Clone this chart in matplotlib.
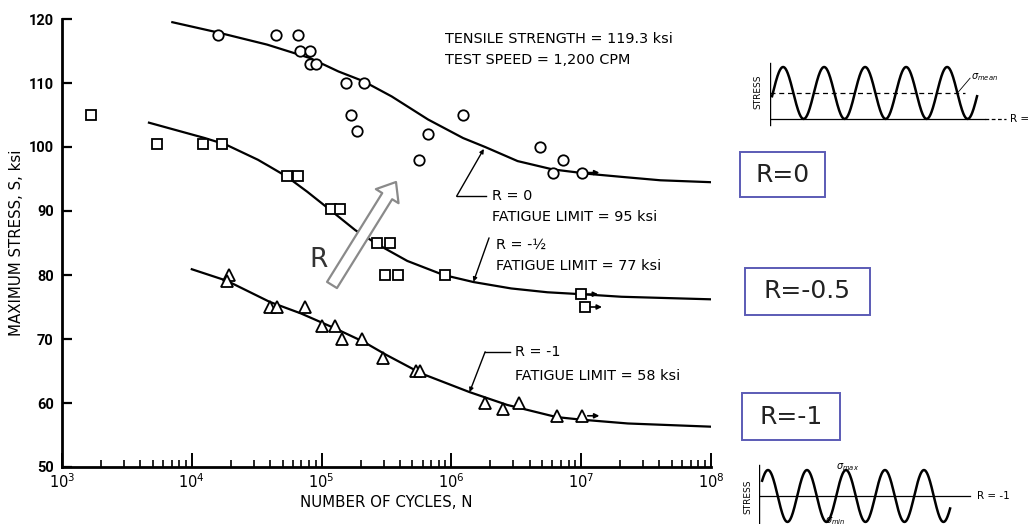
import numpy as np
import matplotlib.pyplot as plt
from matplotlib.patches import Rectangle

plt.rcParams['font.family'] = ['DejaVu Sans']

# ---- datos de ensayo: log10(N) y tension maxima S (ksi) ----
# R = 0 (circulos)
r0_logn = [4.20, 4.65, 4.82, 4.83, 4.91, 4.91, 4.96, 5.19, 5.33, 5.23, 5.27,
           5.75, 5.82, 6.09, 6.68, 6.86, 6.78, 7.01]
r0_s = [117.5, 117.5, 117.5, 115, 115, 113, 113, 110, 110, 105, 102.5,
        98, 102, 105, 100, 98, 96, 96]

# R = -1/2 (cuadrados)
r05_logn = [3.22, 3.73, 4.09, 4.23, 4.73, 4.82, 5.07, 5.14, 5.43, 5.53,
            5.49, 5.59, 5.95, 7.00, 7.03]
r05_s = [105, 100.5, 100.5, 100.5, 95.5, 95.5, 90.3, 90.3, 85, 85,
         80, 80, 80, 77, 75]

# R = -1 (triangulos)
r1_logn = [4.29, 4.27, 4.60, 4.66, 4.87, 5.00, 5.10, 5.16, 5.31, 5.47,
           5.73, 5.76, 6.26, 6.40, 6.52, 6.81, 7.01]
r1_s = [80, 79, 75, 75, 75, 72, 72, 70, 70, 67,
        65, 65, 60, 59, 60, 58, 58]

# probetas sin rotura (flecha)
runout_logn = [7.01, 7.00, 7.03, 7.01]
runout_s = [96, 77, 75, 58]

# curvas ajustadas
c0_logn = [3.85, 4.20, 4.58, 4.91, 5.13, 5.32, 5.54, 5.82, 6.09, 6.26, 6.51,
           6.78, 7.06, 7.33, 7.61, 8.0]
c0_s = [119.5, 117.9, 116.0, 113.9, 111.8, 110.3, 107.9, 104.3, 101.4, 100.0,
        97.8, 96.5, 95.8, 95.3, 94.8, 94.5]

c05_logn = [3.67, 4.10, 4.26, 4.51, 4.73, 4.89, 5.07, 5.26, 5.43, 5.66, 5.94,
            6.17, 6.46, 6.74, 7.0, 7.31, 8.0]
c05_s = [103.8, 101.4, 100.4, 98.0, 95.4, 93.0, 90.1, 87.0, 84.8, 82.2, 80.0,
         78.9, 77.9, 77.3, 77.0, 76.6, 76.2]

c1_logn = [4.0, 4.27, 4.60, 4.84, 5.11, 5.32, 5.50, 5.77, 6.14, 6.43, 6.81,
           7.0, 7.36, 8.0]
c1_s = [80.9, 79.1, 75.8, 74.0, 71.6, 69.6, 67.5, 64.6, 61.7, 59.7, 57.8,
        57.4, 56.8, 56.3]

yticks = [50, 60, 70, 80, 90, 100, 110, 120]
decades = [3, 4, 5, 6, 7, 8]

W, H = 1032, 524
fig = plt.figure(figsize=(W / 100, H / 100), dpi=100)
fig.patch.set_facecolor('white')


def fx(px):
    return px / W


def fy(py):
    return 1 - py / H


ax = fig.add_axes([fx(62), fy(467), fx(711 - 62), (467 - 19) / H])
ax.set_xscale('log')
ax.set_xlim(1e3, 1e8)
ax.set_ylim(50, 120)

N = lambda v: 10 ** np.asarray(v)

for cl, cs in [(c0_logn, c0_s), (c05_logn, c05_s), (c1_logn, c1_s)]:
    ax.plot(N(cl), cs, color='black', lw=1.6, solid_joinstyle='round')

mk = dict(linestyle='none', mfc='white', mec='black', mew=1.3, zorder=3)
ax.plot(N(r0_logn), r0_s, marker='o', ms=7.5, **mk)
ax.plot(N(r05_logn), r05_s, marker='s', ms=7, **mk)
ax.plot(N(r1_logn), r1_s, marker='^', ms=8, **mk)

for ln, s in zip(runout_logn, runout_s):
    ax.annotate('', xy=(10 ** (ln + 0.13), s), xytext=(10 ** (ln + 0.04), s),
                arrowprops=dict(arrowstyle='-|>', color='black', lw=1.2,
                                mutation_scale=7, shrinkA=0, shrinkB=0))

ax.spines['top'].set_visible(False)
ax.spines['right'].set_visible(False)
ax.spines['left'].set_linewidth(2)
ax.spines['bottom'].set_linewidth(2)
ax.set_yticks(yticks)
ax.set_xticks([10.0 ** d for d in decades])
ax.set_xticklabels([f'$10^{{{d}}}$' for d in decades])
ax.tick_params(axis='y', direction='in', length=7, width=1.6, labelsize=10.5, pad=6)
ax.tick_params(axis='x', which='major', direction='in', length=10, width=1.4,
               labelsize=10.5, pad=4)
ax.tick_params(axis='x', which='minor', direction='in', length=5, width=1.2)
for lab in ax.get_yticklabels() + ax.get_xticklabels():
    lab.set_family('Roboto')
    lab.set_fontweight('bold')

ax.set_ylabel('MAXIMUM STRESS, S, ksi', fontsize=10.8, labelpad=3)
ax.set_xlabel('NUMBER OF CYCLES, N', fontsize=10.8, labelpad=3)

tkw = dict(fontsize=10.4, ha='left', va='center')
ax.text(10 ** 5.95, 116.9, 'TENSILE STRENGTH = 119.3 ksi', **tkw)
ax.text(10 ** 5.95, 113.6, 'TEST SPEED = 1,200 CPM', **tkw)

# leyendas de cada curva
lead = dict(arrowstyle='-|>', color='black', lw=1.0, mutation_scale=6,
            shrinkA=0, shrinkB=0)
ax.plot([10 ** 6.27, 10 ** 6.04], [92.3, 92.3], color='black', lw=1.0)
ax.annotate('', xy=(10 ** 6.25, 99.7), xytext=(10 ** 6.04, 92.3), arrowprops=lead)
ax.text(10 ** 6.31, 92.3, 'R = 0', **tkw)
ax.text(10 ** 6.31, 89.0, 'FATIGUE LIMIT = 95 ksi', **tkw)

ax.annotate('', xy=(10 ** 6.17, 78.95), xytext=(10 ** 6.29, 85.8), arrowprops=lead)
ax.text(10 ** 6.34, 84.7, 'R = -½', **tkw)
ax.text(10 ** 6.34, 81.4, 'FATIGUE LIMIT = 77 ksi', **tkw)

ax.plot([10 ** 6.26, 10 ** 6.45], [68.0, 68.0], color='black', lw=1.0)
ax.annotate('', xy=(10 ** 6.14, 61.7), xytext=(10 ** 6.26, 68.0), arrowprops=lead)
ax.text(10 ** 6.49, 68.0, 'R = -1', **tkw)
ax.text(10 ** 6.49, 64.2, 'FATIGUE LIMIT = 58 ksi', **tkw)

# flecha hueca "R"
ax.annotate('', xy=(396, H - 182), xytext=(332, H - 285), xycoords='figure pixels',
            textcoords='figure pixels',
            arrowprops=dict(arrowstyle='simple,head_length=1.0,head_width=1.6,tail_width=0.7',
                            fc='white', ec='#8a8a8a', lw=1.6, mutation_scale=12,
                            shrinkA=0, shrinkB=0))
fig.text(fx(319), fy(260), 'R', fontsize=19, color='#333333', ha='center', va='center')

# cajas con el valor de R
box_color = '#5b5bb5'
boxes = [(740, 152, 825, 197, 'R=0'), (745, 268, 870, 315, 'R=-0.5'),
         (742, 393, 840, 440, 'R=-1')]
for x0, y0, x1, y1, txt in boxes:
    fig.add_artist(Rectangle((fx(x0), fy(y1)), fx(x1 - x0), (y1 - y0) / H,
                             transform=fig.transFigure, fill=False,
                             ec=box_color, lw=1.4))
    fig.text(fx((x0 + x1) / 2), fy((y0 + y1) / 2), txt, fontsize=18,
             ha='center', va='center', color='#222222')

# esquema de la onda R = 0
n_cycles = 5
ia = fig.add_axes([fx(770), fy(128), fx(1032 - 770), 68 / H])
ia.set_xlim(0, 262 / 41)
ia.set_ylim(-0.35, 2.27)
ia.axis('off')
t = np.linspace(0.05, 0.05 + n_cycles, 600)
ia.plot(t, 1 + np.cos(2 * np.pi * (t - 0.32)), color='black', lw=1.8)
ia.plot([0, 0], [-0.23, 2.15], color='black', lw=1.0)
ia.plot([0, 5.25], [0, 0], color='black', lw=0.9)
ia.plot([5.25, 5.75], [0, 0], color='black', lw=0.9, ls=(0, (3, 2)))
ia.plot([0, 4.75], [1, 1], color='black', lw=0.9, ls=(0, (4, 3)))
ia.plot([4.6, 4.88], [1.05, 0.57 + 1], color='black', lw=0.6)
ia.text(4.9, 1.6, r'$\sigma_{mean}$', fontsize=7, ha='left', va='center')
ia.text(5.85, 0, 'R = 0', fontsize=7.5, ha='left', va='center')
fig.text(fx(758), fy(92), 'STRESS', rotation=90, fontsize=6.5, ha='center', va='center')

# esquema de la onda R = -1
ib = fig.add_axes([fx(759), 0, fx(1032 - 759), (524 - 462) / H])
ib.set_xlim(0, 273 / 39)
ib.set_ylim(-1.08, 1.31)
ib.axis('off')
t = np.linspace(0.08, 4.9, 600)
ib.plot(t, np.cos(2 * np.pi * (t - 0.23)), color='black', lw=1.8)
ib.plot([0, 0], [-1.08, 1.2], color='black', lw=1.0)
ib.plot([0, 5.4], [0, 0], color='black', lw=0.9)
ib.text(2.28, 1.1, r'$\sigma_{max}$', fontsize=7, ha='center', va='center')
ib.text(1.95, -0.95, r'$\sigma_{min}$', fontsize=7, ha='center', va='center')
ib.text(5.6, 0, 'R = -1', fontsize=7.5, ha='left', va='center')
fig.text(fx(748), fy(497), 'STRESS', rotation=90, fontsize=6.5, ha='center', va='center')

fig.savefig('out.png', dpi=100)
